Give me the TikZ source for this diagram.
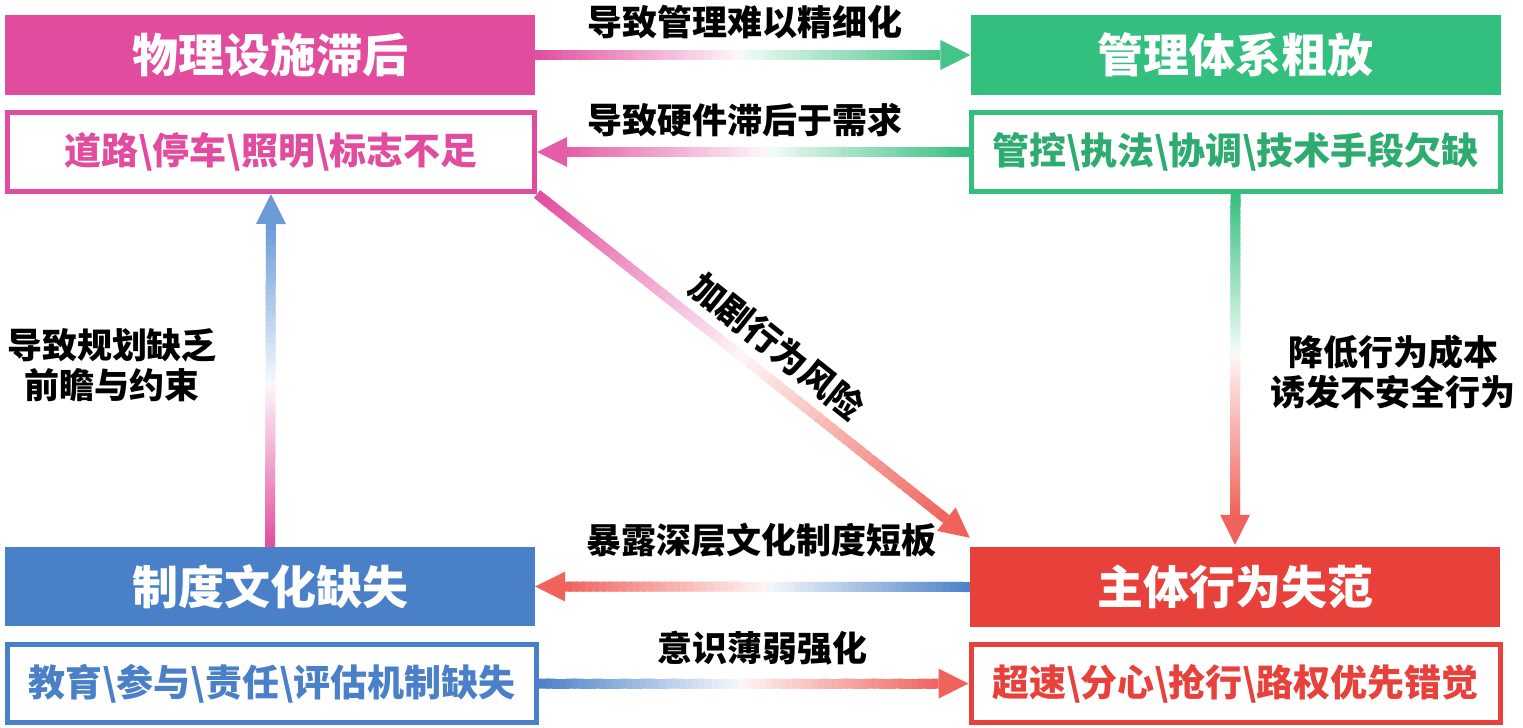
\documentclass[tikz,border=0pt]{standalone}
\usepackage{fontspec}
\setmainfont{Noto Sans CJK SC}
\usetikzlibrary{calc}
\definecolor{cpink}{HTML}{E24C9E}
\definecolor{cgreen}{HTML}{33BF7D}
\definecolor{cblue}{HTML}{4A80C8}
\definecolor{cred}{HTML}{E8403A}
\definecolor{epink}{HTML}{E55DA6}
\definecolor{egreen}{HTML}{45C488}
\definecolor{ered}{HTML}{F0635C}
\definecolor{eblue}{HTML}{6A9AD8}
\newcommand\gradarrow[4]{%
  \coordinate (ga-s) at (#1);
  \coordinate (ga-t) at (#2);
  \coordinate (ga-b) at ($(ga-t)!30pt!(ga-s)$);
  \foreach \i in {0,...,59}{
    \pgfmathsetmacro\ta{\i/60}
    \pgfmathsetmacro\tb{min((\i+1.6)/60,1)}
    \pgfmathtruncatemacro\pa{6+94*(1-2*(\i+0.5)/60)}
    \pgfmathtruncatemacro\pb{6+94*(2*(\i+0.5)/60-1)}
    \ifnum\i<30 \colorlet{gac}{#3!\pa!white}\else\colorlet{gac}{#4!\pb!white}\fi
    \draw[gac, line width=10pt] ($(ga-s)!\ta!(ga-b)$) -- ($(ga-s)!\tb!(ga-b)$);
  }
  \fill[#4] ($(ga-b)!15pt!90:(ga-t)$) -- (ga-t) -- ($(ga-b)!15pt!-90:(ga-t)$) -- cycle;
}
\tikzset{
  head/.style={minimum width=530pt, minimum height=80pt, inner sep=0pt, text=white,
    font=\bfseries\fontsize{46}{46}\selectfont},
  sub/.style={draw, line width=5pt, fill=white, minimum width=529pt, minimum height=79pt,
    inner sep=0pt, font=\bfseries\fontsize{37}{37}\selectfont},
  lab/.style={font=\bfseries\fontsize{35}{40}\selectfont, align=center, inner sep=0pt, text=black}
}
\begin{document}
\begin{tikzpicture}[x=1pt,y=-1pt]
\useasboundingbox (0,0) rectangle (1523,728);
% boxes
\node[head, fill=cpink] (ph) at (270,55) {物理设施滞后};
\node[sub, draw=cpink, text=cpink, minimum width=527pt] (ps) at (271,152) {道路\textbackslash 停车\textbackslash 照明\textbackslash 标志不足};
\node[head, fill=cgreen] (gh) at (1235.5,55) {管理体系粗放};
\node[sub, draw=cgreen, text=cgreen!90!black] (gs) at (1235.5,152) {管控\textbackslash 执法\textbackslash 协调\textbackslash 技术手段欠缺};
\node[head, fill=cblue, minimum height=79pt] (bh) at (270,586.5) {制度文化缺失};
\node[sub, draw=cblue, text=cblue, minimum height=78pt] (bs) at (272,683.5) {教育\textbackslash 参与\textbackslash 责任\textbackslash 评估机制缺失};
\node[head, fill=cred] (rh) at (1235,587) {主体行为失范};
\node[sub, draw=cred, text=cred, minimum height=78pt] (rs) at (1235.5,683.5) {超速\textbackslash 分心\textbackslash 抢行\textbackslash 路权优先错觉};
% connectors
\gradarrow{ph.east}{gh.west}{cpink}{egreen}
\gradarrow{gs.west}{ps.east}{cgreen}{epink}
\gradarrow{ps.south east}{$(rh.north west)+(0,-9)$}{cpink}{ered}
\gradarrow{gs.south}{$(rh.north)+(0,-2)$}{cgreen}{ered}
\gradarrow{rh.west}{bh.east}{cblue}{ered}
\gradarrow{bs.east}{rs.west}{cblue}{ered}
\gradarrow{bh.north}{ps.south}{cpink}{eblue}
% labels
\node[lab] (l1) at (745,22) {导致管理难以精细化};
\node[lab] (l2) at (745,120) {导致硬件滞后于需求};
\node[lab, rotate=-38.5] (l3) at (777,346) {加剧行为风险};
\node[lab] (l4) at (1393,372) {降低行为成本\\诱发不安全行为};
\node[lab] (l5) at (112,365) {导致规划缺乏\\前瞻与约束};
\node[lab] (l6) at (761,540) {暴露深层文化制度短板};
\node[lab] (l7) at (762,648) {意识薄弱强化};
\end{tikzpicture}
\end{document}
